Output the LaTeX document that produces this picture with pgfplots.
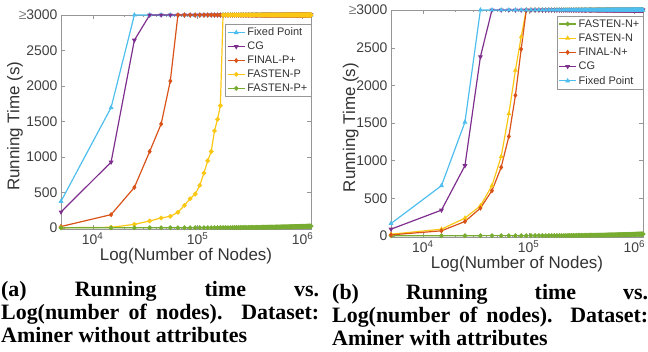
\documentclass[border=0pt]{standalone}
\usepackage{fontspec}
\setmainfont{Liberation Sans}
\newfontfamily\capfont{Liberation Serif}
\usepackage{pgfplots}
\usepackage{pgfplotstable}
\pgfplotsset{compat=1.18}
\definecolor{mlblue}{RGB}{77,190,238}
\definecolor{mlpurple}{RGB}{126,47,142}
\definecolor{mlorange}{RGB}{217,83,25}
\definecolor{mlyellow}{RGB}{250,200,20}
\definecolor{mlgreen}{RGB}{119,172,48}
\definecolor{axgray}{RGB}{150,150,150}
% x fpA cgA finA fspA gA gB fsnB finB cgB fpB
\pgfplotstableread{
x fpA cgA finA fspA gA gB fsnB finB cgB fpB
5000 375 225 20 3 2 2 22 13 89 164
15000 1695 927 187 9 2 2 89 67 342 667
25000 3000 2645 571 50 3 2 236 191 933 1511
35000 3000 3000 1077 98 3 3 400 369 2378 3000
45000 3000 3000 1465 140 3 3 667 600 3000 3000
55000 3000 3000 2069 164 3 3 1053 911 3000 3000
65000 3000 3000 3000 220 3 3 1622 1320 3000 3000
75000 3000 3000 3000 318 3 3 2200 1867 3000 3000
85000 3000 3000 3000 412 3 3 2644 2480 3000 3000
95000 3000 3000 3000 478 4 3 3000 3000 3000 3000
105000 3000 3000 3000 600 4 4 3000 3000 3000 3000
115000 3000 3000 3000 773 4 4 3000 3000 3000 3000
125000 3000 3000 3000 946 4 4 3000 3000 3000 3000
135000 3000 3000 3000 1077 4 4 3000 3000 3000 3000
145000 3000 3000 3000 1367 4 4 3000 3000 3000 3000
155000 3000 3000 3000 1531 5 4 3000 3000 3000 3000
165000 3000 3000 3000 1723 5 5 3000 3000 3000 3000
175000 3000 3000 3000 3000 5 5 3000 3000 3000 3000
185000 3000 3000 3000 3000 5 5 3000 3000 3000 3000
195000 3000 3000 3000 3000 5 5 3000 3000 3000 3000
205000 3000 3000 3000 3000 5 5 3000 3000 3000 3000
215000 3000 3000 3000 3000 6 5 3000 3000 3000 3000
225000 3000 3000 3000 3000 6 5 3000 3000 3000 3000
235000 3000 3000 3000 3000 6 6 3000 3000 3000 3000
245000 3000 3000 3000 3000 6 6 3000 3000 3000 3000
255000 3000 3000 3000 3000 6 6 3000 3000 3000 3000
265000 3000 3000 3000 3000 7 6 3000 3000 3000 3000
275000 3000 3000 3000 3000 7 6 3000 3000 3000 3000
285000 3000 3000 3000 3000 7 6 3000 3000 3000 3000
295000 3000 3000 3000 3000 7 7 3000 3000 3000 3000
305000 3000 3000 3000 3000 7 7 3000 3000 3000 3000
315000 3000 3000 3000 3000 8 7 3000 3000 3000 3000
325000 3000 3000 3000 3000 8 7 3000 3000 3000 3000
335000 3000 3000 3000 3000 8 7 3000 3000 3000 3000
345000 3000 3000 3000 3000 8 8 3000 3000 3000 3000
355000 3000 3000 3000 3000 8 8 3000 3000 3000 3000
365000 3000 3000 3000 3000 9 8 3000 3000 3000 3000
375000 3000 3000 3000 3000 9 8 3000 3000 3000 3000
385000 3000 3000 3000 3000 9 8 3000 3000 3000 3000
395000 3000 3000 3000 3000 9 9 3000 3000 3000 3000
405000 3000 3000 3000 3000 9 9 3000 3000 3000 3000
415000 3000 3000 3000 3000 10 9 3000 3000 3000 3000
425000 3000 3000 3000 3000 10 9 3000 3000 3000 3000
435000 3000 3000 3000 3000 10 9 3000 3000 3000 3000
445000 3000 3000 3000 3000 10 10 3000 3000 3000 3000
455000 3000 3000 3000 3000 10 10 3000 3000 3000 3000
465000 3000 3000 3000 3000 11 10 3000 3000 3000 3000
475000 3000 3000 3000 3000 11 10 3000 3000 3000 3000
485000 3000 3000 3000 3000 11 10 3000 3000 3000 3000
495000 3000 3000 3000 3000 11 11 3000 3000 3000 3000
505000 3000 3000 3000 3000 11 11 3000 3000 3000 3000
515000 3000 3000 3000 3000 12 11 3000 3000 3000 3000
525000 3000 3000 3000 3000 12 11 3000 3000 3000 3000
535000 3000 3000 3000 3000 12 11 3000 3000 3000 3000
545000 3000 3000 3000 3000 12 12 3000 3000 3000 3000
555000 3000 3000 3000 3000 12 12 3000 3000 3000 3000
565000 3000 3000 3000 3000 13 12 3000 3000 3000 3000
575000 3000 3000 3000 3000 13 12 3000 3000 3000 3000
585000 3000 3000 3000 3000 13 12 3000 3000 3000 3000
595000 3000 3000 3000 3000 13 13 3000 3000 3000 3000
605000 3000 3000 3000 3000 13 13 3000 3000 3000 3000
615000 3000 3000 3000 3000 14 13 3000 3000 3000 3000
625000 3000 3000 3000 3000 14 13 3000 3000 3000 3000
635000 3000 3000 3000 3000 14 13 3000 3000 3000 3000
645000 3000 3000 3000 3000 14 14 3000 3000 3000 3000
655000 3000 3000 3000 3000 14 14 3000 3000 3000 3000
665000 3000 3000 3000 3000 15 14 3000 3000 3000 3000
675000 3000 3000 3000 3000 15 14 3000 3000 3000 3000
685000 3000 3000 3000 3000 15 14 3000 3000 3000 3000
695000 3000 3000 3000 3000 15 15 3000 3000 3000 3000
705000 3000 3000 3000 3000 15 15 3000 3000 3000 3000
715000 3000 3000 3000 3000 16 15 3000 3000 3000 3000
725000 3000 3000 3000 3000 16 15 3000 3000 3000 3000
735000 3000 3000 3000 3000 16 15 3000 3000 3000 3000
745000 3000 3000 3000 3000 16 16 3000 3000 3000 3000
755000 3000 3000 3000 3000 16 16 3000 3000 3000 3000
765000 3000 3000 3000 3000 17 16 3000 3000 3000 3000
775000 3000 3000 3000 3000 17 16 3000 3000 3000 3000
785000 3000 3000 3000 3000 17 16 3000 3000 3000 3000
795000 3000 3000 3000 3000 17 17 3000 3000 3000 3000
805000 3000 3000 3000 3000 17 17 3000 3000 3000 3000
815000 3000 3000 3000 3000 18 17 3000 3000 3000 3000
825000 3000 3000 3000 3000 18 17 3000 3000 3000 3000
835000 3000 3000 3000 3000 18 17 3000 3000 3000 3000
845000 3000 3000 3000 3000 18 18 3000 3000 3000 3000
855000 3000 3000 3000 3000 18 18 3000 3000 3000 3000
865000 3000 3000 3000 3000 19 18 3000 3000 3000 3000
875000 3000 3000 3000 3000 19 18 3000 3000 3000 3000
885000 3000 3000 3000 3000 19 18 3000 3000 3000 3000
895000 3000 3000 3000 3000 19 19 3000 3000 3000 3000
905000 3000 3000 3000 3000 19 19 3000 3000 3000 3000
915000 3000 3000 3000 3000 20 19 3000 3000 3000 3000
925000 3000 3000 3000 3000 20 19 3000 3000 3000 3000
935000 3000 3000 3000 3000 20 19 3000 3000 3000 3000
945000 3000 3000 3000 3000 20 20 3000 3000 3000 3000
955000 3000 3000 3000 3000 20 20 3000 3000 3000 3000
965000 3000 3000 3000 3000 21 20 3000 3000 3000 3000
975000 3000 3000 3000 3000 21 20 3000 3000 3000 3000
985000 3000 3000 3000 3000 21 20 3000 3000 3000 3000
995000 3000 3000 3000 3000 21 21 3000 3000 3000 3000
1005000 3000 3000 3000 3000 21 21 3000 3000 3000 3000
1015000 3000 3000 3000 3000 22 21 3000 3000 3000 3000
1025000 3000 3000 3000 3000 22 21 3000 3000 3000 3000
1035000 3000 3000 3000 3000 22 21 3000 3000 3000 3000
1045000 3000 3000 3000 3000 22 22 3000 3000 3000 3000
1055000 3000 3000 3000 3000 22 22 3000 3000 3000 3000
1065000 3000 3000 3000 3000 23 22 3000 3000 3000 3000
1075000 3000 3000 3000 3000 23 22 3000 3000 3000 3000
1085000 3000 3000 3000 3000 23 22 3000 3000 3000 3000
1095000 3000 3000 3000 3000 23 23 3000 3000 3000 3000
1105000 3000 3000 3000 3000 23 23 3000 3000 3000 3000
1115000 3000 3000 3000 3000 24 23 3000 3000 3000 3000
1125000 3000 3000 3000 3000 24 23 3000 3000 3000 3000
1135000 3000 3000 3000 3000 24 23 3000 3000 3000 3000
1145000 3000 3000 3000 3000 24 24 3000 3000 3000 3000
1155000 3000 3000 3000 3000 24 24 3000 3000 3000 3000
1165000 3000 3000 3000 3000 25 24 3000 3000 3000 3000
1175000 3000 3000 3000 3000 25 24 3000 3000 3000 3000
1185000 3000 3000 3000 3000 25 24 3000 3000 3000 3000
1195000 3000 3000 3000 3000 25 25 3000 3000 3000 3000
1205000 3000 3000 3000 3000 25 25 3000 3000 3000 3000
}\data

\begin{document}
\begin{tikzpicture}
\path[use as bounding box] (0bp,0bp) rectangle (648bp,352bp);

\begin{axis}[
  scale only axis,
  xmode=log,
  xmin=5000, xmax=1205000,
  ymin=-15, ymax=3000,
  clip=false,
  xtick={10000,100000,1000000},
  xticklabels={10\textsuperscript{4},10\textsuperscript{5},10\textsuperscript{6}},
  ytick={0,500,1000,1500,2000,2500,3000},
  yticklabels={0,500,1000,1500,2000,2500,{\textcolor{gray}{≥}3000}},
  tick label style={font=\fontsize{14}{16}\selectfont, text=black!75},
  label style={font=\fontsize{17}{19}\selectfont, text=black!80},
  axis line style={axgray},
  tick style={axgray},
  major tick length=4bp,
  minor tick length=2bp,
  xlabel={Log(Number of Nodes)},
  ylabel={Running Time (s)},
  legend cell align=left,
  legend style={draw=axgray, fill=white, font=\fontsize{11}{12}\selectfont,
    inner sep=1.5pt, row sep=0.8pt, text=black!80},
  every axis plot/.append style={line width=1.2pt, mark size=1.7pt},
  at={(61bp,123bp)}, anchor=south west,
  width=250bp, height=214bp,
  xlabel style={at={(axis description cs:0.5,-0.125)}, anchor=center},
  ylabel style={at={(axis description cs:-0.184,0.48)}, anchor=center},
  legend style={at={(axis description cs:1,0.957)}, anchor=north east},
]
\addplot[color=mlblue, mark=triangle*] table[x=x,y=fpA]{\data};
\addlegendentry{Fixed Point}
\addplot[color=mlpurple, mark=triangle*, mark options={rotate=180}] table[x=x,y=cgA]{\data};
\addlegendentry{CG}
\addplot[color=mlorange, mark=diamond*] table[x=x,y=finA]{\data};
\addlegendentry{FINAL-P+}
\addplot[color=mlyellow, mark=*] table[x=x,y=fspA]{\data};
\addlegendentry{FASTEN-P}
\addplot[color=mlgreen, mark=*] table[x=x,y=gA]{\data};
\addlegendentry{FASTEN-P+}
\end{axis}

\begin{axis}[
  scale only axis,
  xmode=log,
  xmin=5000, xmax=1205000,
  ymin=-15, ymax=3000,
  clip=false,
  xtick={10000,100000,1000000},
  xticklabels={10\textsuperscript{4},10\textsuperscript{5},10\textsuperscript{6}},
  ytick={0,500,1000,1500,2000,2500,3000},
  yticklabels={0,500,1000,1500,2000,2500,{\textcolor{gray}{≥}3000}},
  tick label style={font=\fontsize{14}{16}\selectfont, text=black!75},
  label style={font=\fontsize{17}{19}\selectfont, text=black!80},
  axis line style={axgray},
  tick style={axgray},
  major tick length=4bp,
  minor tick length=2bp,
  xlabel={Log(Number of Nodes)},
  ylabel={Running Time (s)},
  legend cell align=left,
  legend style={draw=axgray, fill=white, font=\fontsize{11}{12}\selectfont,
    inner sep=1.5pt, row sep=1.1pt, text=black!80},
  every axis plot/.append style={line width=1.2pt, mark size=1.7pt},
  at={(391bp,115bp)}, anchor=south west,
  width=252bp, height=227bp,
  xlabel style={at={(axis description cs:0.5,-0.119)}, anchor=center},
  ylabel style={at={(axis description cs:-0.16,0.482)}, anchor=center},
  legend style={at={(axis description cs:1,0.975)}, anchor=north east},
]
\addplot[color=mlgreen, mark=*] table[x=x,y=gB]{\data};
\addlegendentry{FASTEN-N+}
\addplot[color=mlyellow, mark=triangle*] table[x=x,y=fsnB]{\data};
\addlegendentry{FASTEN-N}
\addplot[color=mlorange, mark=diamond*] table[x=x,y=finB]{\data};
\addlegendentry{FINAL-N+}
\addplot[color=mlpurple, mark=triangle*, mark options={rotate=180}] table[x=x,y=cgB]{\data};
\addlegendentry{CG}
\addplot[color=mlblue, mark=triangle*] table[x=x,y=fpB]{\data};
\addlegendentry{Fixed Point}
\end{axis}

\node[anchor=north west, text width=318bp, align=justify, inner sep=0pt,
  font=\capfont\bfseries\fontsize{22}{23}\selectfont] at (1bp,71bp)
  {(a) Running time vs.\linebreak Log(number of nodes). Dataset:\linebreak Aminer without attributes};
\node[anchor=north west, text width=316bp, align=justify, inner sep=0pt,
  font=\capfont\bfseries\fontsize{22}{23}\selectfont] at (332bp,68bp)
  {(b) Running time vs.\linebreak Log(number of nodes). Dataset:\linebreak Aminer with attributes};
\end{tikzpicture}
\end{document}
